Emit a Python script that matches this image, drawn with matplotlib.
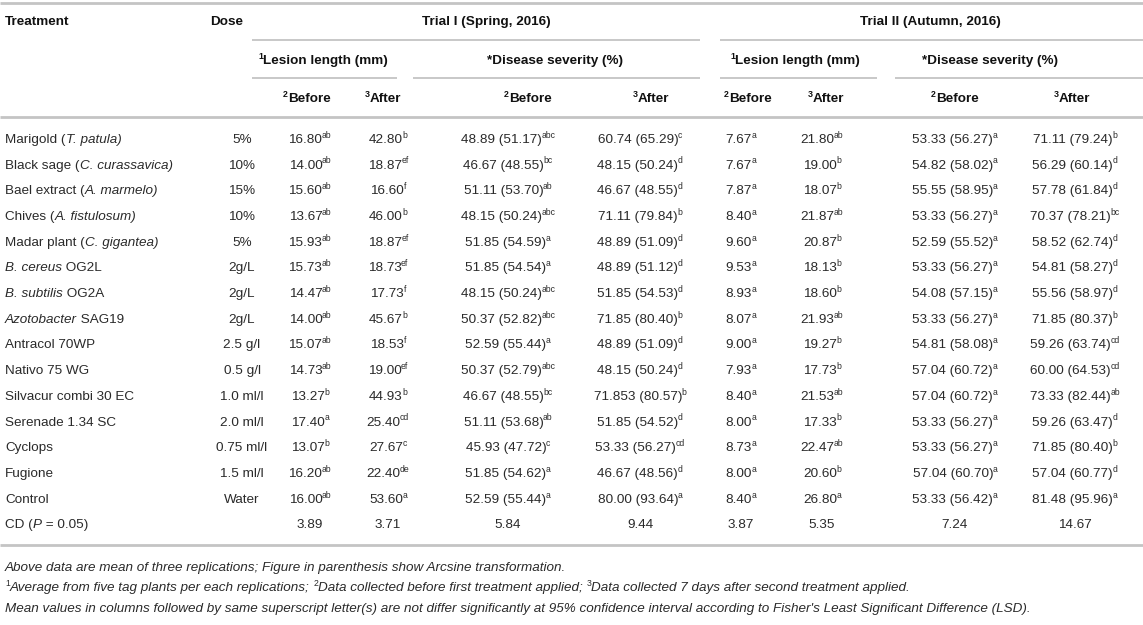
import matplotlib
matplotlib.use('Agg')
import matplotlib.pyplot as plt

# ---------------- data ----------------
treatments = ["Marigold (_T. patula)_", "Black sage (_C. curassavica)_", "Bael extract (_A. marmelo)_",
              "Chives (_A. fistulosum)_", "Madar plant (_C. gigantea)_", "_B. cereus_ OG2L",
              "_B. subtilis_ OG2A", "_Azotobacter_ SAG19", "Antracol 70WP", "Nativo 75 WG",
              "Silvacur combi 30 EC", "Serenade 1.34 SC", "Cyclops", "Fugione", "Control",
              "CD (_P_ = 0.05)"]
doses = ["5%", "10%", "15%", "10%", "5%", "2g/L", "2g/L", "2g/L", "2.5 g/l", "0.5 g/l",
         "1.0 ml/l", "2.0 ml/l", "0.75 ml/l", "1.5 ml/l", "Water", ""]

t1_lesion_before = ["16.80^ab", "14.00^ab", "15.60^ab", "13.67^ab", "15.93^ab", "15.73^ab", "14.47^ab",
                    "14.00^ab", "15.07^ab", "14.73^ab", "13.27^b", "17.40^a", "13.07^b", "16.20^ab",
                    "16.00^ab", "3.89"]
t1_lesion_after = ["42.80^b", "18.87^ef", "16.60^f", "46.00^b", "18.87^ef", "18.73^ef", "17.73^f",
                   "45.67^b", "18.53^f", "19.00^ef", "44.93^b", "25.40^cd", "27.67^c", "22.40^de",
                   "53.60^a", "3.71"]
t1_severity_before = ["48.89 (51.17)^abc", "46.67 (48.55)^bc", "51.11 (53.70)^ab", "48.15 (50.24)^abc",
                      "51.85 (54.59)^a", "51.85 (54.54)^a", "48.15 (50.24)^abc", "50.37 (52.82)^abc",
                      "52.59 (55.44)^a", "50.37 (52.79)^abc", "46.67 (48.55)^bc", "51.11 (53.68)^ab",
                      "45.93 (47.72)^c", "51.85 (54.62)^a", "52.59 (55.44)^a", "5.84"]
t1_severity_after = ["60.74 (65.29)^c", "48.15 (50.24)^d", "46.67 (48.55)^d", "71.11 (79.84)^b",
                     "48.89 (51.09)^d", "48.89 (51.12)^d", "51.85 (54.53)^d", "71.85 (80.40)^b",
                     "48.89 (51.09)^d", "48.15 (50.24)^d", "71.853 (80.57)^b", "51.85 (54.52)^d",
                     "53.33 (56.27)^cd", "46.67 (48.56)^d", "80.00 (93.64)^a", "9.44"]
t2_lesion_before = ["7.67^a", "7.67^a", "7.87^a", "8.40^a", "9.60^a", "9.53^a", "8.93^a", "8.07^a",
                    "9.00^a", "7.93^a", "8.40^a", "8.00^a", "8.73^a", "8.00^a", "8.40^a", "3.87"]
t2_lesion_after = ["21.80^ab", "19.00^b", "18.07^b", "21.87^ab", "20.87^b", "18.13^b", "18.60^b",
                   "21.93^ab", "19.27^b", "17.73^b", "21.53^ab", "17.33^b", "22.47^ab", "20.60^b",
                   "26.80^a", "5.35"]
t2_severity_before = ["53.33 (56.27)^a", "54.82 (58.02)^a", "55.55 (58.95)^a", "53.33 (56.27)^a",
                      "52.59 (55.52)^a", "53.33 (56.27)^a", "54.08 (57.15)^a", "53.33 (56.27)^a",
                      "54.81 (58.08)^a", "57.04 (60.72)^a", "57.04 (60.72)^a", "53.33 (56.27)^a",
                      "53.33 (56.27)^a", "57.04 (60.70)^a", "53.33 (56.42)^a", "7.24"]
t2_severity_after = ["71.11 (79.24)^b", "56.29 (60.14)^d", "57.78 (61.84)^d", "70.37 (78.21)^bc",
                     "58.52 (62.74)^d", "54.81 (58.27)^d", "55.56 (58.97)^d", "71.85 (80.37)^b",
                     "59.26 (63.74)^cd", "60.00 (64.53)^cd", "73.33 (82.44)^ab", "59.26 (63.47)^d",
                     "71.85 (80.40)^b", "57.04 (60.77)^d", "81.48 (95.96)^a", "14.67"]

trial_labels = ["Trial I (Spring, 2016)", "Trial II (Autumn, 2016)"]
group_labels = ["1|Lesion length (mm)", "|*Disease severity (%)"]
sub_labels = ["2|Before", "3|After"]
footnotes = [
    [("Above data are mean of three replications; Figure in parenthesis show Arcsine transformation.", 'i')],
    [("1", 's'), ("Average from five tag plants per each replications; ", 'i'), ("2", 's'),
     ("Data collected before first treatment applied; ", 'i'), ("3", 's'),
     ("Data collected 7 days after second treatment applied.", 'i')],
    [("Mean values in columns followed by same superscript letter(s) are not differ significantly at 95% "
      "confidence interval according to Fisher's Least Significant Difference (LSD).", 'i')],
]

# ---------------- style / layout ----------------
FONT = 'Liberation Sans'
FS = 9.7
TXT = '#2a2a2a'
HDR = '#111111'
LINE = '#c4c4c4'
plt.rcParams['font.family'] = FONT

W, H = 1143, 625
fig = plt.figure(figsize=(W / 100, H / 100), dpi=100)
ax = fig.add_axes([0, 0, 1, 1])
ax.set_xlim(0, W)
ax.set_ylim(H, 0)
ax.axis('off')
renderer = fig.canvas.get_renderer()

STY = {
    'n': dict(fontsize=FS, color=TXT),
    'i': dict(fontsize=FS, style='italic', color=TXT),
    'b': dict(fontsize=FS, weight='bold', color=HDR),
    's': dict(fontsize=FS * 0.64, color=TXT),
    'bs': dict(fontsize=FS * 0.66, weight='bold', color=HDR),
}
PX = 100 / 72.0
CAP = 0.72 * FS * PX
SUP_RAISE = 0.38 * FS * PX
SUP_KERN = -0.5

_wcache = {}


def text_width(s, st):
    key = (s, st)
    if key in _wcache:
        return _wcache[key]
    def w(txt):
        t = ax.text(0, 0, txt, **STY[st])
        bb = t.get_window_extent(renderer)
        t.remove()
        return bb.width
    val = w('|' + s + '|') - w('||')
    _wcache[key] = val
    return val


def draw_runs(x, yc, runs, ha='left'):
    widths = []
    for k, (s, st) in enumerate(runs):
        wd = text_width(s, st)
        # tighten the gap before a trailing superscript
        if k + 1 < len(runs) and runs[k + 1][1] == 's' and st == 'n':
            wd += SUP_KERN
        widths.append(wd)
    total = sum(widths)
    if ha == 'center':
        x0 = x - total / 2
    elif ha == 'right':
        x0 = x - total
    else:
        x0 = x
    base = yc + CAP / 2
    for (s, st), wd in zip(runs, widths):
        y = base - SUP_RAISE if st in ('s', 'bs') else base
        ax.text(x0, y, s, va='baseline', ha='left', **STY[st])
        x0 += wd


def parse_markup(s):
    parts = s.split('_')
    return [(p, 'i' if k % 2 else 'n') for k, p in enumerate(parts) if p]


def parse_value(s):
    if '^' in s:
        v, sup = s.split('^')
        return [(v, 'n'), (sup, 's')]
    return [(s, 'n')]


def parse_header(s):
    sup, main = s.split('|')
    runs = []
    if sup:
        runs.append((sup, 'bs'))
    runs.append((main, 'b'))
    return runs


# ---------------- header ----------------
y_h1, y_h2, y_h3 = 20, 59, 97
draw_runs(5, y_h1, [("Treatment", 'b')])
draw_runs(227, y_h1, [("Dose", 'b')], ha='center')
trial_centers = [486, 930]
for c, lab in zip(trial_centers, trial_labels):
    draw_runs(c, y_h1, [(lab, 'b')], ha='center')

group_centers = [323, 555, 795, 990]
for k, c in enumerate(group_centers):
    draw_runs(c, y_h2, parse_header(group_labels[k % 2]), ha='center')

col_centers = [310, 388, 508, 640, 741, 822, 955, 1075]
sub_centers = [307, 383, 528, 651, 748, 826, 955, 1072]
for k, c in enumerate(sub_centers):
    draw_runs(c, y_h3, parse_header(sub_labels[k % 2]), ha='center')


def hline(x0, x1, y, lw):
    ax.plot([x0, x1], [y, y], color=LINE, lw=lw, solid_capstyle='butt')


hline(0, W, 3, 2.0)
hline(252, 700, 40, 1.3)
hline(720, W, 40, 1.3)
for a, b in [(252, 397), (413, 700), (720, 877), (895, W)]:
    hline(a, b, 78, 1.3)
hline(0, W, 117, 2.0)

# ---------------- body ----------------
columns = [t1_lesion_before, t1_lesion_after, t1_severity_before, t1_severity_after,
           t2_lesion_before, t2_lesion_after, t2_severity_before, t2_severity_after]
y0, dy = 138, 25.7
for r, name in enumerate(treatments):
    y = y0 + r * dy
    draw_runs(5, y, parse_markup(name))
    if doses[r]:
        draw_runs(242, y, [(doses[r], 'n')], ha='center')
    for c, col in zip(col_centers, columns):
        draw_runs(c, y, parse_value(col[r]), ha='center')

y_bottom = 545
hline(0, W, y_bottom, 2.0)

for k, fn in enumerate(footnotes):
    draw_runs(5, y_bottom + 21 + k * 20.5, fn)

fig.savefig('out.png', dpi=100)
